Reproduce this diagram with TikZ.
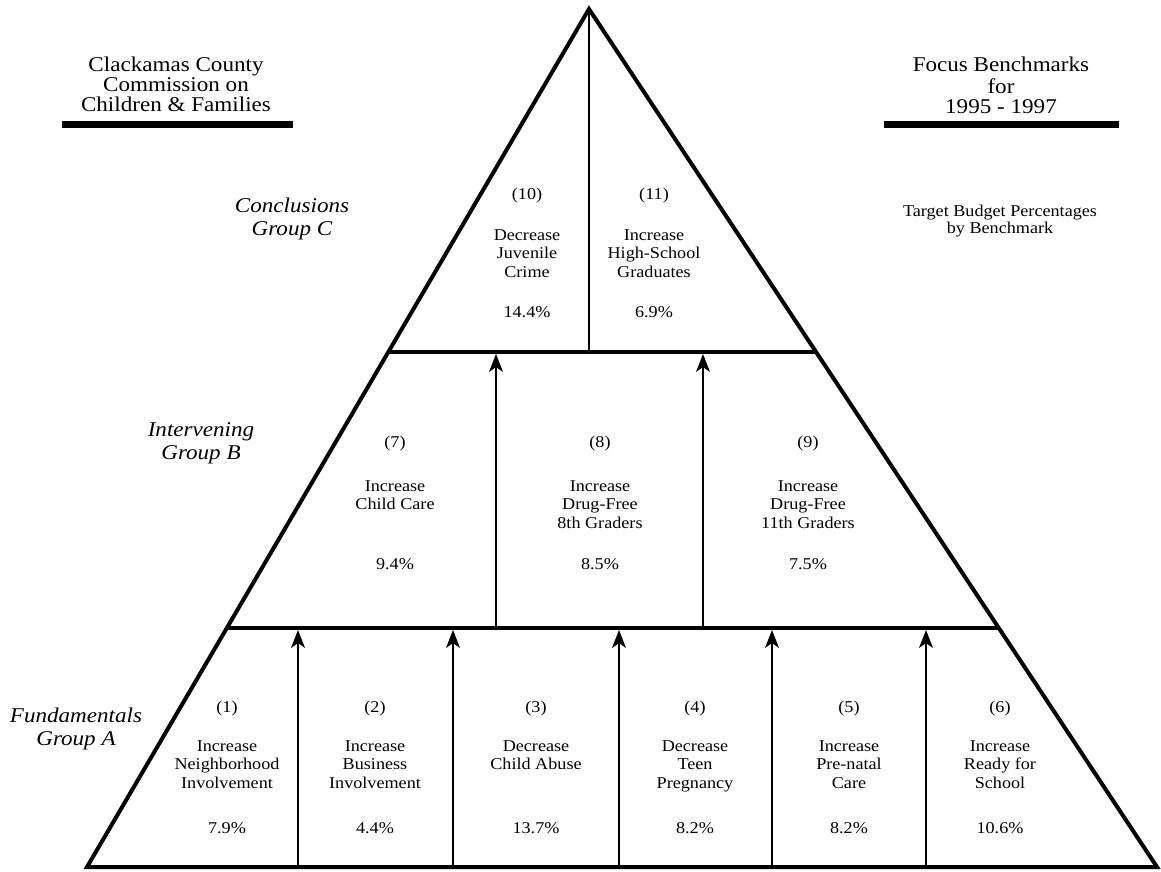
\documentclass[tikz,border=0pt]{standalone}
\usepackage{fontspec}
\setmainfont{Liberation Serif}[FakeStretch=1.1]
\usetikzlibrary{arrows.meta,calc}
\begin{document}
\begin{tikzpicture}[x=1pt,y=-1pt,
  edge/.style={line width=4pt, line join=miter},
  sep/.style={line width=4pt},
  div/.style={line width=1.1pt},
  up/.style={line width=1.1pt, -{Stealth[length=18pt,width=14pt,inset=5pt]}},
  bar/.style={line width=7pt},
  lbl/.style={font=\fontsize{16.5}{18.5}\selectfont, align=center, inner sep=0pt, anchor=north},
  one/.style={font=\fontsize{16.5}{18.5}\selectfont, inner sep=0pt, anchor=base},
  hdr/.style={font=\fontsize{21}{20}\selectfont, align=center, inner sep=0pt, anchor=north},
  grp/.style={font=\fontsize{21}{23}\selectfont\itshape, align=center, inner sep=0pt, anchor=north},
  tgt/.style={font=\fontsize{16.5}{17.5}\selectfont, align=center, inner sep=0pt, anchor=north},
]
\useasboundingbox (0,0) rectangle (1161,871);
% triangle corners
\coordinate (A) at (589,9);
\coordinate (L) at (87,867);
\coordinate (R) at (1157,867);
\coordinate (s1l) at ($(A)!0.39977!(L)$);
\coordinate (s1r) at ($(A)!0.39977!(R)$);
\coordinate (s2l) at ($(A)!0.72145!(L)$);
\coordinate (s2r) at ($(A)!0.72145!(R)$);
\coordinate (s1m) at (589,352);
% arrows bottom section
\foreach \x [count=\i] in {298,453,619,772,926}{
  \coordinate (ba\i) at (\x,867);
  \coordinate (ta\i) at (\x,630);
  \draw[up] (ba\i) -- (ta\i);
}
% arrows middle section
\foreach \x [count=\i] in {496,703}{
  \coordinate (bm\i) at (\x,626);
  \coordinate (tm\i) at (\x,354);
  \draw[up] (bm\i) -- (tm\i);
}
% top divider
\draw[div] (A) -- (s1m);
% separators
\draw[sep] (s1l) -- (s1r);
\draw[sep] (s2l) -- (s2r);
% triangle
\draw[edge] (A) -- (L) -- (R) -- cycle;

% headers
\node[hdr] (hl) at (176,57) {\strut Clackamas County\\Commission on\\Children \& Families};
\coordinate (bl1) at (62,124.5); \coordinate (bl2) at (293,124.5);
\draw[bar] (bl1) -- (bl2);
\node[hdr] (hr) at (1001,57) {\strut Focus Benchmarks\\for\\1995 - 1997};
\coordinate (br1) at (884,124.5); \coordinate (br2) at (1119,124.5);
\draw[bar] (br1) -- (br2);
\node[tgt] (tg) at (1000,204) {\strut Target Budget Percentages\\by Benchmark};

% group labels
\node[grp] (gc) at (292,196) {\strut Conclusions\\Group C};
\node[grp] (gb) at (201,420) {\strut Intervening\\Group B};
\node[grp] (ga) at (76,706) {\strut Fundamentals\\Group A};

% top section
\node[one] (n10) at (527,199) {(10)};
\node[lbl] (t10) at (527,227) {\strut Decrease\\Juvenile\\Crime};
\node[one] (p10) at (527,317) {14.4\%};
\node[one] (n11) at (654,199) {(11)};
\node[lbl] (t11) at (654,227) {\strut Increase\\High-School\\Graduates};
\node[one] (p11) at (654,317) {6.9\%};

% middle section
\node[one] (n7) at (395,447) {(7)};
\node[lbl] (t7) at (395,478) {\strut Increase\\Child Care};
\node[one] (p7) at (395,569) {9.4\%};
\node[one] (n8) at (600,447) {(8)};
\node[lbl] (t8) at (600,478) {\strut Increase\\Drug-Free\\8th Graders};
\node[one] (p8) at (600,569) {8.5\%};
\node[one] (n9) at (808,447) {(9)};
\node[lbl] (t9) at (808,478) {\strut Increase\\Drug-Free\\11th Graders};
\node[one] (p9) at (808,569) {7.5\%};

% bottom section
\node[one] (n1) at (227,712) {(1)};
\node[lbl] (t1) at (227,738) {\strut Increase\\Neighborhood\\Involvement};
\node[one] (p1) at (227,833) {7.9\%};
\node[one] (n2) at (375,712) {(2)};
\node[lbl] (t2) at (375,738) {\strut Increase\\Business\\Involvement};
\node[one] (p2) at (375,833) {4.4\%};
\node[one] (n3) at (536,712) {(3)};
\node[lbl] (t3) at (536,738) {\strut Decrease\\Child Abuse};
\node[one] (p3) at (536,833) {13.7\%};
\node[one] (n4) at (695,712) {(4)};
\node[lbl] (t4) at (695,738) {\strut Decrease\\Teen\\Pregnancy};
\node[one] (p4) at (695,833) {8.2\%};
\node[one] (n5) at (849,712) {(5)};
\node[lbl] (t5) at (849,738) {\strut Increase\\Pre-natal\\Care};
\node[one] (p5) at (849,833) {8.2\%};
\node[one] (n6) at (1000,712) {(6)};
\node[lbl] (t6) at (1000,738) {\strut Increase\\Ready for\\School};
\node[one] (p6) at (1000,833) {10.6\%};
\end{tikzpicture}
\end{document}
